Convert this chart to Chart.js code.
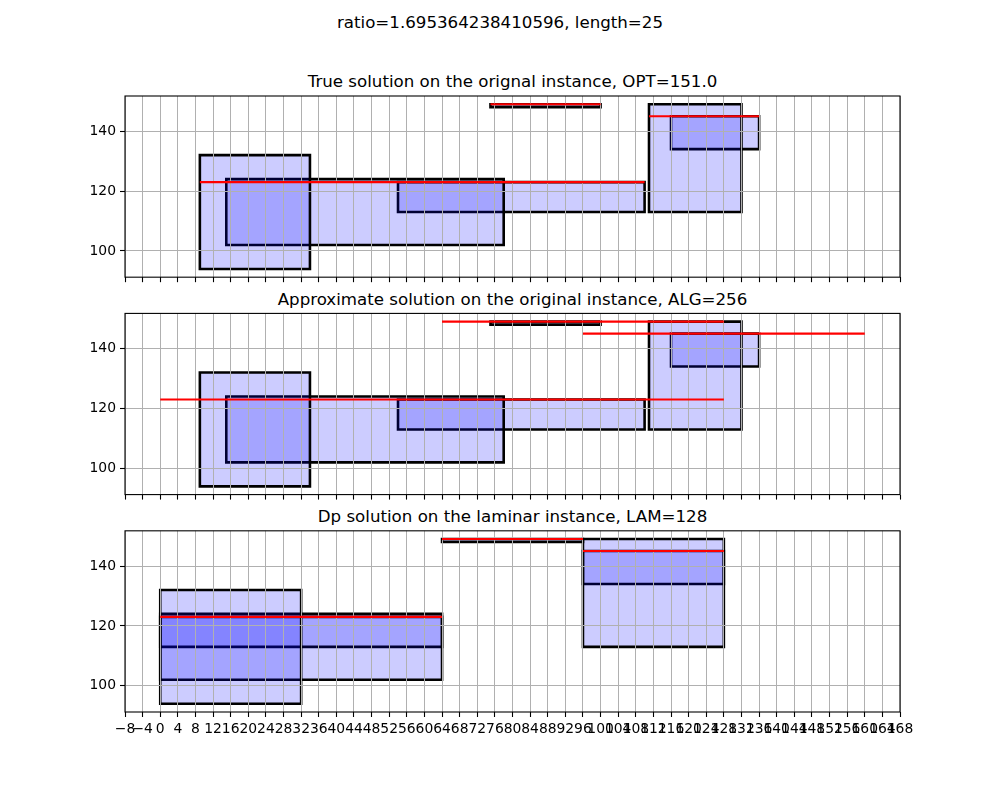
<!DOCTYPE html>
<html>
<head>
<meta charset="utf-8">
<script src="https://cdn.jsdelivr.net/npm/chart.js@4.4.1/dist/chart.umd.min.js"></script>
<style>
  html, body { margin: 0; padding: 0; background: #ffffff; }
  #wrap { position: relative; width: 1000px; height: 800px; background: #ffffff; overflow: hidden; }
  canvas { position: absolute; left: 0; top: 0; }
  .ttl { position: absolute; font-family: 'DejaVu Sans', sans-serif; font-size: 16.67px; line-height: 16.67px; color: #000; text-align: center; white-space: nowrap; }
</style>
</head>
<body>
<div id="wrap">
  <div class="ttl" style="left:0;width:1000px;top:15.2px;">ratio=1.695364238410596, length=25</div>
  <div class="ttl" style="left:125px;width:775px;top:74.4px;">True solution on the orignal instance, OPT=151.0</div>
  <div class="ttl" style="left:125px;width:775px;top:291.9px;">Approximate solution on the original instance, ALG=256</div>
  <div class="ttl" style="left:125px;width:775px;top:509.2px;">Dp solution on the laminar instance, LAM=128</div>
  <canvas id="c3" width="1000" height="800"></canvas>
  <canvas id="c3r" width="1000" height="800"></canvas>
  <canvas id="c2" width="1000" height="800"></canvas>
  <canvas id="c2r" width="1000" height="800"></canvas>
  <canvas id="c1" width="1000" height="800"></canvas>
  <canvas id="c1r" width="1000" height="800"></canvas>
</div>
<script>
// ---- tick values ----
const xTicks = [-8,-4,0,4,8,12,16,20,24,28,32,36,40,44,48,52,56,60,64,68,72,76,80,84,88,92,96,100,104,108,112,116,120,124,128,132,136,140,144,148,152,156,160,164,168];
const yTicks = [100, 120, 140];

// ---- OPT (true solution on the original instance): rectangles ----
const optX1 = [9, 15, 54, 75, 111, 116];
const optX2 = [34, 78, 110, 100, 132, 136];
const optY1 = [94, 102, 113, 148, 113, 134];
const optY2 = [132, 124, 123, 149, 149, 145];
// OPT red lines
const optLineX1 = [9, 75, 111];
const optLineX2 = [110, 100, 136];
const optLineY  = [123, 149, 145];

// ---- ALG (approximate solution on the original instance): rectangles ----
const algX1 = [9, 15, 54, 75, 111, 116];
const algX2 = [34, 78, 110, 100, 132, 136];
const algY1 = [94, 102, 113, 148, 113, 134];
const algY2 = [132, 124, 123, 149, 149, 145];
// ALG red lines
const algLineX1 = [0, 64, 96];
const algLineX2 = [128, 128, 160];
const algLineY  = [123, 149, 145];

// ---- LAM (dp solution on the laminar instance): rectangles ----
const lamX1 = [0, 0, 0, 64, 96, 96];
const lamX2 = [32, 64, 64, 96, 128, 128];
const lamY1 = [94, 102, 113, 148, 113, 134];
const lamY2 = [132, 124, 123, 149, 149, 145];
// LAM red lines
const lamLineX1 = [0, 64, 96];
const lamLineX2 = [64, 96, 128];
const lamLineY  = [123, 149, 145];

const X_MIN = -8, X_MAX = 168, Y_MIN = 91.25, Y_MAX = 151.75;
const XH = 40, YW = 60;

Chart.defaults.font.family = "'DejaVu Sans', sans-serif";

const framePlugin = {
  id: 'frame',
  afterDraw(chart) {
    const a = chart.chartArea, ctx = chart.ctx;
    ctx.save();
    ctx.strokeStyle = '#000000';
    ctx.lineWidth = 1.1;
    ctx.strokeRect(a.left, a.top, a.right - a.left, a.bottom - a.top);
    ctx.restore();
  }
};

function fmt(v) {
  return v < 0 ? '\u2212' + Math.abs(v) : String(v);
}

function axesOptions(axTop, axBottom, showLabels) {
  return {
    responsive: false,
    animation: false,
    devicePixelRatio: 1,
    events: [],
    layout: { padding: { left: 125 - YW, right: 100, top: axTop, bottom: 800 - axBottom - XH } },
    plugins: { legend: { display: false }, tooltip: { enabled: false }, title: { display: false } },
    scales: {
      x: {
        type: 'linear', min: X_MIN, max: X_MAX,
        afterBuildTicks: s => { s.ticks = xTicks.map(v => ({value: v})); },
        afterFit: s => { s.height = XH; },
        ticks: {
          display: showLabels, autoSkip: false, maxRotation: 0, minRotation: 0,
          padding: 4, color: '#000000', font: { size: 13.9 },
          callback: v => fmt(v)
        },
        grid: { z: 1, color: '#b0b0b0', lineWidth: 1, tickLength: 5, tickColor: '#000000', tickWidth: 1.1 },
        border: { display: false }
      },
      y: {
        type: 'linear', min: Y_MIN, max: Y_MAX,
        afterBuildTicks: s => { s.ticks = yTicks.map(v => ({value: v})); },
        afterFit: s => { s.width = YW; },
        ticks: { padding: 4, color: '#000000', font: { size: 13.9 }, callback: v => fmt(v) },
        grid: { z: 1, color: '#b0b0b0', lineWidth: 1, tickLength: 5, tickColor: '#000000', tickWidth: 1.1 },
        border: { display: false }
      }
    }
  };
}

function overlayOptions(axTop, axBottom) {
  return {
    responsive: false,
    animation: false,
    devicePixelRatio: 1,
    events: [],
    layout: { padding: { left: 125, right: 100, top: axTop, bottom: 800 - axBottom } },
    plugins: { legend: { display: false }, tooltip: { enabled: false }, title: { display: false } },
    scales: {
      x: { type: 'linear', min: X_MIN, max: X_MAX, display: false },
      y: { type: 'linear', min: Y_MIN, max: Y_MAX, display: false }
    }
  };
}

function makePanel(id, x1, x2, y1, y2, lx1, lx2, ly, axTop, axBottom, showLabels) {
  // rectangles (patches); grid and spines drawn above them
  const rects = [];
  for (let i = 0; i < x1.length; i++) {
    rects.push({
      data: [
        {x: x1[i], y: y1[i]}, {x: x2[i], y: y1[i]},
        {x: x2[i], y: y2[i]}, {x: x1[i], y: y2[i]},
        {x: x1[i], y: y1[i]}
      ],
      borderColor: '#000000', borderWidth: 2.6,
      backgroundColor: 'rgba(0,0,255,0.2)', fill: 'shape',
      borderJoinStyle: 'miter', borderCapStyle: 'square',
      pointRadius: 0, tension: 0
    });
  }
  new Chart(document.getElementById(id), {
    type: 'line',
    data: { datasets: rects },
    options: axesOptions(axTop, axBottom, showLabels),
    plugins: [framePlugin]
  });
  // red lines, drawn above the grid
  const lines = [];
  for (let i = 0; i < lx1.length; i++) {
    lines.push({
      data: [{x: lx1[i], y: ly[i]}, {x: lx2[i], y: ly[i]}],
      borderColor: '#ff0000', borderWidth: 2.1, fill: false,
      pointRadius: 0, tension: 0
    });
  }
  new Chart(document.getElementById(id + 'r'), {
    type: 'line',
    data: { datasets: lines },
    options: overlayOptions(axTop, axBottom)
  });
}

makePanel('c1', optX1, optX2, optY1, optY2, optLineX1, optLineX2, optLineY, 96, 277.18, false);
makePanel('c2', algX1, algX2, algY1, algY2, algLineX1, algLineX2, algLineY, 313.41, 494.59, false);
makePanel('c3', lamX1, lamX2, lamY1, lamY2, lamLineX1, lamLineX2, lamLineY, 530.82, 712, true);
</script>
</body>
</html>
